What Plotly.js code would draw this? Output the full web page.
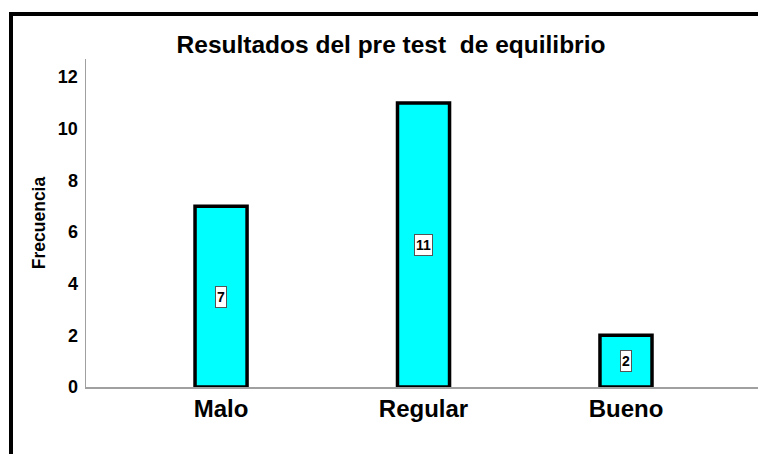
<!DOCTYPE html>
<html>
<head>
<meta charset="utf-8">
<script src="https://cdn.plot.ly/plotly-3.0.1.min.js"></script>
<style>
  html, body { margin: 0; padding: 0; background: #fff; }
  #wrap { position: relative; width: 758px; height: 454px; overflow: hidden; }
  #chart { width: 758px; height: 454px; }
  #frame { position: absolute; left: 9px; top: 12px; width: 760px; height: 460px;
           border-top: 4px solid #000; border-left: 4px solid #000; pointer-events: none; }
</style>
</head>
<body>
<div id="wrap">
  <div id="chart"></div>
  <div id="frame"></div>
</div>
<script>
const chartTitle = "Resultados del pre test  de equilibrio";
const categories = ["Malo", "Regular", "Bueno"];
const frequencies = [7, 11, 2];
const yTicks = [0, 2, 4, 6, 8, 10, 12];
const yAxisLabel = "Frecuencia";

const FONT = "Liberation Sans, Arial, sans-serif";

const trace = {
  type: "bar",
  x: categories,
  y: frequencies,
  width: 0.257,
  marker: { color: "#00FFFF", line: { color: "#000000", width: 3.5 } },
  hoverinfo: "none"
};

const annotations = categories.map((c, i) => ({
  x: c, y: frequencies[i] / 2, xref: "x", yref: "y",
  text: "<b>" + String(frequencies[i]) + "</b>", showarrow: false,
  font: { family: FONT, size: 14, color: "#000" },
  height: 18,
  bgcolor: "#ffffff", bordercolor: "#555555", borderwidth: 1, borderpad: 1
}));

const layout = {
  width: 758, height: 454,
  margin: { l: 86, r: 0, t: 59, b: 67 },
  paper_bgcolor: "#ffffff", plot_bgcolor: "#ffffff",
  showlegend: false,
  font: { family: FONT, color: "#000" },
  title: {
    text: "<b>" + chartTitle + "</b>",
    font: { family: FONT, size: 24.5, color: "#000" },
    x: 391 / 758, xref: "container", xanchor: "center",
    y: 1 - 44 / 454, yref: "container", yanchor: "middle"
  },
  xaxis: {
    type: "category",
    range: [-0.667, 2.652],
    showgrid: false, zeroline: false,
    showline: true, linecolor: "#A0A0A0", linewidth: 1.5,
    ticks: "", tickfont: { family: FONT, size: 24, color: "#000", weight: "bold" },
    fixedrange: true
  },
  yaxis: {
    range: [0, 12.7],
    tickvals: yTicks, ticktext: yTicks.map(String),
    showgrid: false, zeroline: false,
    showline: true, linecolor: "#A0A0A0", linewidth: 1.5,
    ticks: "", tickfont: { family: FONT, size: 18, color: "#000", weight: "bold" },
    ticklabelstandoff: 3,
    title: { text: "<b>" + yAxisLabel + "</b>", font: { family: FONT, size: 17.5, color: "#000" }, standoff: 7 },
    fixedrange: true
  },
  annotations: annotations
};

Plotly.newPlot("chart", [trace], layout, { staticPlot: true, displayModeBar: false });
</script>
</body>
</html>
